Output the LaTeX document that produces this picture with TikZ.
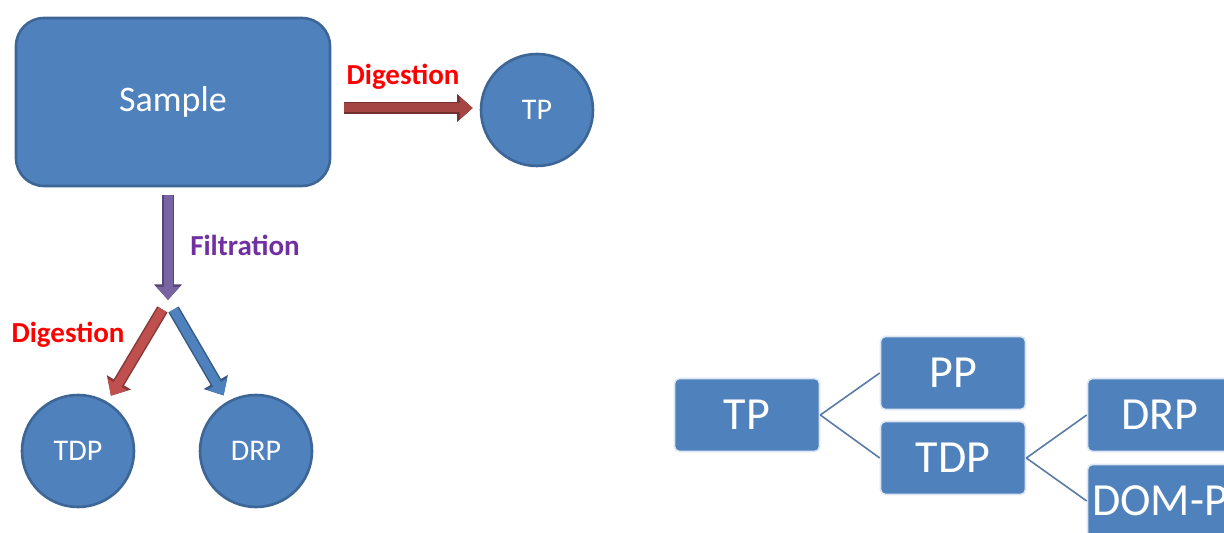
\documentclass[tikz,border=0pt]{standalone}
\usepackage{fontspec}
\setmainfont{Carlito}
\usetikzlibrary{positioning,arrows.meta}
\definecolor{boxblue}{HTML}{4F81BD}
\definecolor{boxedge}{HTML}{3D6696}
\definecolor{arrowred}{HTML}{C0504D}
\definecolor{arrowdarkred}{HTML}{A44543}
\definecolor{arrowpurple}{HTML}{7864A2}
\definecolor{arrowblue}{HTML}{4F81BD}
\definecolor{labelpurple}{HTML}{7030A0}
\definecolor{treeline}{HTML}{5B7BA5}

\begin{document}
\begin{tikzpicture}[x=0.5pt, y=-0.5pt,
				samplenode/.style={rectangle, rounded corners=14pt, draw=boxedge, fill=boxblue, line width=1.3pt, minimum width=157pt, minimum height=84pt, text=white, font=\fontsize{18}{21}\selectfont},
				circnode/.style={circle, draw=boxedge, fill=boxblue, line width=1.3pt, minimum size=56pt, inner sep=0pt, text=white, font=\fontsize{15}{18}\selectfont},
				treenode/.style={rectangle, rounded corners=2.5pt, draw=white!80!boxblue, fill=boxblue, line width=0.8pt, minimum width=72.5pt, minimum height=36.5pt, inner sep=0pt, text=white, font=\fontsize{23}{26}\selectfont},
				fatarrow/.style={line width=4.5pt, draw=#1, -{Triangle[length=6.5pt, width=11pt]},
					preaction={draw=#1!70!black, line width=6pt, -{Triangle[length=7.8pt, width=13.5pt]}}},
				steplabel/.style={font=\bfseries\fontsize{14.5}{17}\selectfont, text=#1},
			]
			\useasboundingbox (0,0) rectangle (1224,533);
			\clip (0,0) rectangle (1224,533);
			\node[samplenode] (sample) at (173,102) {Sample};
			\node[circnode] (tp) at (537,110) {TP};
			\node[circnode] (tdp) at (78,451) {TDP};
			\node[circnode] (drp) at (256,451) {DRP};
			\coordinate (fork) at (168,300);
			\node[steplabel=red] (digtop) at (403,77) {Digestion};
			\node[steplabel=labelpurple] (filt) at (245,245) {Filtration};
			\node[steplabel=red] (digbottom) at (68,335) {Digestion};
			\begin{scope}
			\draw[fatarrow=arrowdarkred, shorten <=6.5pt, shorten >=3.5pt] (sample.east |- 0,108) -- (tp.west |- 0,108);
			\draw[fatarrow=arrowpurple, shorten <=4pt] (sample.south -| fork) -- (fork);
			\draw[fatarrow=arrowred, shorten <=5.5pt, shorten >=3.5pt] (fork) -- (tdp);
			\draw[fatarrow=arrowblue, shorten <=5.5pt, shorten >=3.5pt] (fork) -- (drp);
			\end{scope}
			\node[treenode] (treetp) at (747,415) {TP};
			\node[treenode] (treepp) at (953,373) {PP};
			\node[treenode] (treetdp) at (953,458) {TDP};
			\node[treenode] (treedrp) at (1160,415) {DRP};
			\node[treenode] (treedomp) at (1160,501) {DOM-P};
			\begin{scope}[draw=treeline, line width=0.8pt]
			\draw (treetp.east) -- (treepp.west);
			\draw (treetp.east) -- (treetdp.west);
			\draw (treetdp.east) -- (treedrp.west);
			\draw (treetdp.east) -- (treedomp.west);
			\end{scope}
			\end{tikzpicture}
\end{document}
